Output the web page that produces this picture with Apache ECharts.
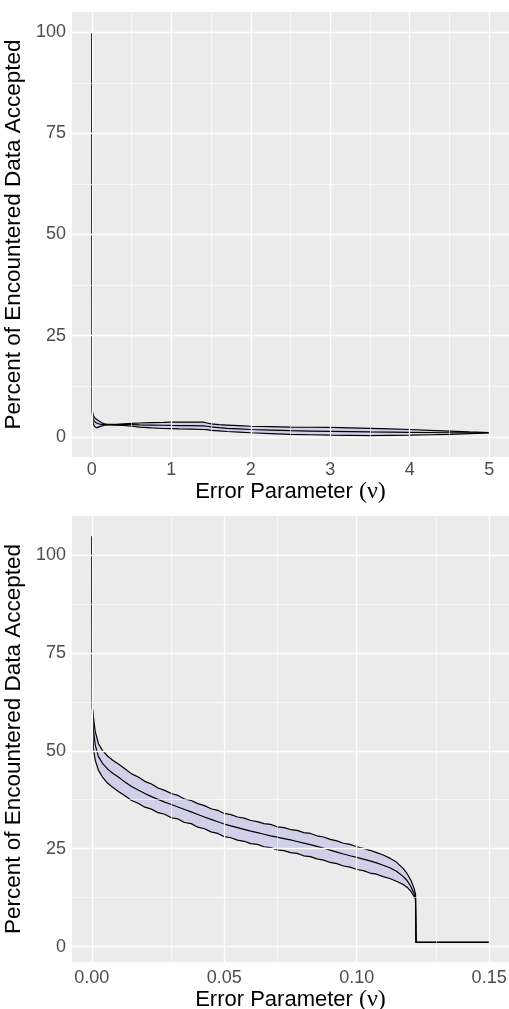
<!DOCTYPE html>
<html>
<head>
<meta charset="utf-8">
<script src="https://cdn.jsdelivr.net/npm/echarts@6/dist/echarts.min.js"></script>
<style>html,body{margin:0;padding:0;background:#fff}#c{width:509px;height:1009px}</style>
</head>
<body>
<div id="c"></div>
<script>
// ---------- data: top panel ----------
const topX = [0, 0.005, 0.01, 0.02, 0.03, 0.045, 0.06, 0.08, 0.1, 0.13, 0.16, 0.2, 0.25, 0.3, 0.4, 0.5, 0.6, 0.75, 0.9, 1.0, 1.1, 1.25, 1.4, 1.45, 1.5, 1.6, 1.7, 1.85, 2.0, 2.25, 2.5, 2.75, 3.0, 3.25, 3.5, 3.75, 4.0, 4.25, 4.5, 4.75, 5.0];
const topUpper = [100, 7.0, 6.0, 5.2, 4.8, 4.5, 4.3, 4.0, 3.7, 3.4, 3.2, 3.1, 3.05, 3.1, 3.2, 3.3, 3.4, 3.5, 3.55, 3.6, 3.6, 3.6, 3.6, 3.4, 3.2, 3.0, 2.9, 2.75, 2.6, 2.5, 2.4, 2.35, 2.3, 2.2, 2.1, 1.95, 1.8, 1.6, 1.4, 1.2, 1.05];
const topMid = [100, 6.5, 5.2, 4.3, 3.8, 3.5, 3.4, 3.2, 3.1, 3.05, 3.0, 3.0, 3.0, 3.0, 3.0, 3.0, 2.95, 2.9, 2.85, 2.8, 2.78, 2.75, 2.7, 2.6, 2.45, 2.25, 2.1, 1.95, 1.8, 1.65, 1.5, 1.42, 1.35, 1.28, 1.2, 1.15, 1.1, 1.05, 1.0, 1.0, 1.0];
const topLower = [100, 6.0, 4.4, 3.2, 2.6, 2.3, 2.2, 2.3, 2.5, 2.7, 2.85, 2.95, 2.95, 2.9, 2.8, 2.6, 2.4, 2.2, 2.05, 2.0, 1.95, 1.9, 1.8, 1.75, 1.6, 1.45, 1.3, 1.15, 1.0, 0.8, 0.6, 0.5, 0.4, 0.35, 0.3, 0.35, 0.4, 0.5, 0.6, 0.8, 0.95];
const topXTicks = [0, 1, 2, 3, 4, 5];
const topXMinor = [0.5, 1.5, 2.5, 3.5, 4.5];
const topYTicks = [0, 25, 50, 75, 100];
const topYMinor = [12.5, 37.5, 62.5, 87.5];

// ---------- data: bottom panel ----------
const botX = [0, 0.0002, 0.0006, 0.00125, 0.0025, 0.004, 0.006, 0.008, 0.01, 0.0125, 0.015, 0.0175, 0.02, 0.0225, 0.025, 0.0275, 0.03, 0.0325, 0.035, 0.0375, 0.04, 0.0425, 0.045, 0.0475, 0.05, 0.0525, 0.055, 0.0575, 0.06, 0.0625, 0.065, 0.0675, 0.07, 0.0725, 0.075, 0.0775, 0.08, 0.0825, 0.085, 0.0875, 0.09, 0.0925, 0.095, 0.0975, 0.1, 0.1025, 0.105, 0.1075, 0.11, 0.1125, 0.115, 0.1175, 0.119, 0.1205, 0.1215, 0.1222, 0.1224, 0.15];
const botUpper = [104.7, 61, 58.5, 55.0, 51.8, 50.1, 48.6, 47.5,
  46.6, 45.4, 44.1, 43.3, 42.2, 41.5, 40.5, 39.9, 39.1, 38.6, 37.7, 37.3, 36.5, 36.0, 35.2, 34.8, 34.0, 33.7, 33.1, 32.8, 32.2, 31.9, 31.4, 31.2, 30.6, 30.4, 29.9, 29.7, 29.1, 28.9, 28.3, 28.0, 27.4, 27.0, 26.4, 26.1, 25.5, 25.1, 24.6, 24.0, 23.4, 22.6, 21.6,
  20.0, 18.7, 16.9, 15.2, 13.5, 1.1, 1.1];
const botMid = [104.7, 61, 55.5, 51.5, 48.5, 46.8, 45.3, 44.2,
  43.3, 42.0, 40.9, 40.0, 39.1, 38.3, 37.6, 36.9, 36.3, 35.65, 35.0, 34.4, 33.75, 33.1, 32.5, 31.9, 31.3, 30.85, 30.4, 29.95, 29.5, 29.1, 28.7, 28.3, 27.95, 27.6, 27.25, 26.85, 26.45, 26.05, 25.6, 25.15, 24.65, 24.15, 23.65, 23.2, 22.8, 22.35, 21.9, 21.4, 20.8, 20.15, 19.25,
  17.95, 16.9, 15.3, 13.8, 12.5, 1.1, 1.1];
const botLower = [104.7, 61, 50.5, 47.6, 45.0, 43.3, 41.7, 40.6,
  39.6, 38.5, 37.3, 36.6, 35.6, 35.1, 34.2, 33.8, 32.9, 32.6, 31.7, 31.4, 30.5, 30.1, 29.3, 28.9, 28.1, 27.8, 27.2, 26.9, 26.3, 26.1, 25.5, 25.3, 24.7, 24.5, 24.0, 23.8, 23.2, 23.0, 22.4, 22.1, 21.5, 21.2, 20.6, 20.3, 19.7, 19.4, 18.8, 18.5, 17.9, 17.4, 16.7,
  15.9, 15.2, 14.1, 13.0, 12.1, 1.1, 1.1];
const botXTicks = [0, 0.05, 0.10, 0.15];
const botXMinor = [0.025, 0.075, 0.125];
const botYTicks = [0, 25, 50, 75, 100];
const botYMinor = [12.5, 37.5, 62.5, 87.5];

const xTitle = 'Error Parameter {g|(ν)}';
const yTitle = 'Percent of Encountered Data Accepted';

// ---------- styles ----------
const FONT = "'Liberation Sans', Arial, Helvetica, sans-serif";
const PANEL = '#EBEBEB';
const RIBBON = '#D2CFE8';

function zip(xs, ys) { return xs.map((x, i) => [x, ys[i]]); }

function gridLines(idx, xMaj, xMin, yMaj, yMin) {
  const d = [];
  xMin.forEach(v => d.push({ xAxis: v, lineStyle: { width: 0.6 } }));
  yMin.forEach(v => d.push({ yAxis: v, lineStyle: { width: 0.6 } }));
  xMaj.forEach(v => d.push({ xAxis: v, lineStyle: { width: 1.3 } }));
  yMaj.forEach(v => d.push({ yAxis: v, lineStyle: { width: 1.3 } }));
  return {
    type: 'line', xAxisIndex: idx, yAxisIndex: idx, z: 1,
    data: [[xMaj[0], yMaj[0]]], showSymbol: false, symbol: 'none',
    lineStyle: { width: 0, opacity: 0 }, silent: true,
    markLine: {
      silent: true, symbol: ['none', 'none'], label: { show: false },
      lineStyle: { color: '#FFFFFF', type: 'solid', opacity: 1 },
      emphasis: { disabled: true },
      data: d
    }
  };
}

function ribbon(idx, xs, lo, hi) {
  return {
    type: 'custom', xAxisIndex: idx, yAxisIndex: idx, z: 2, silent: true,
    data: [[0]],
    renderItem: function (params, api) {
      const pts = [];
      for (let i = 0; i < xs.length; i++) pts.push(api.coord([xs[i], hi[i]]));
      for (let i = xs.length - 1; i >= 0; i--) pts.push(api.coord([xs[i], lo[i]]));
      return { type: 'polygon', shape: { points: pts }, style: { fill: RIBBON, stroke: 'none' } };
    }
  };
}

function line(idx, xs, ys) {
  return {
    type: 'line', xAxisIndex: idx, yAxisIndex: idx, z: 3, silent: true,
    data: zip(xs, ys), showSymbol: false, symbol: 'none',
    lineStyle: { color: '#000000', width: 1.2 }
  };
}

function xAxis(idx, min, max, ticks, fmt, margin, gap) {
  return {
    type: 'value', gridIndex: idx, min: min, max: max,
    axisLine: { show: false },
    axisTick: { show: true, length: 4, lineStyle: { color: '#333333', width: 1 }, customValues: ticks },
    axisLabel: { show: true, customValues: ticks, formatter: fmt, color: '#4D4D4D', fontSize: 18, fontFamily: FONT, margin: margin },
    splitLine: { show: false }, minorSplitLine: { show: false },
    name: xTitle, nameLocation: 'middle', nameGap: gap,
    nameTextStyle: { color: '#000000', fontSize: 22, fontFamily: FONT,
      rich: { g: { fontFamily: "'Liberation Serif', 'DejaVu Serif', serif", fontSize: 24, color: '#000000' } } }
  };
}

function yAxis(idx, min, max, ticks) {
  return {
    type: 'value', gridIndex: idx, min: min, max: max,
    axisLine: { show: false },
    axisTick: { show: true, length: 4, lineStyle: { color: '#333333', width: 1 }, customValues: ticks },
    axisLabel: { show: true, customValues: ticks, formatter: v => String(v), color: '#4D4D4D', fontSize: 18, fontFamily: FONT, margin: 6 },
    splitLine: { show: false }, minorSplitLine: { show: false },
    name: yTitle, nameLocation: 'middle', nameGap: 34, nameRotate: 90,
    nameTextStyle: { color: '#000000', fontSize: 22.5, fontFamily: FONT }
  };
}

const chart = echarts.init(document.getElementById('c'), null, { renderer: 'canvas' });
chart.setOption({
  animation: false,
  backgroundColor: '#FFFFFF',
  grid: [
    { left: 72, top: 12, width: 437, height: 445, show: true, backgroundColor: PANEL, borderWidth: 0, containLabel: false, outerBoundsMode: 'none' },
    { left: 72, top: 516, width: 437, height: 446, show: true, backgroundColor: PANEL, borderWidth: 0, containLabel: false, outerBoundsMode: 'none' }
  ],
  xAxis: [
    xAxis(0, -0.25, 5.25, topXTicks, v => String(v), 4, 22),
    xAxis(1, -0.0075, 0.1575, botXTicks, v => v.toFixed(2), 7, 25)
  ],
  yAxis: [
    yAxis(0, -5, 105, topYTicks),
    yAxis(1, -3.9, 109.9, botYTicks)
  ],
  series: [
    gridLines(0, topXTicks, topXMinor, topYTicks, topYMinor),
    gridLines(1, botXTicks, botXMinor, botYTicks, botYMinor),
    ribbon(0, topX, topLower, topUpper),
    ribbon(1, botX, botLower, botUpper),
    line(0, topX, topUpper), line(0, topX, topMid), line(0, topX, topLower),
    line(1, botX, botUpper), line(1, botX, botMid), line(1, botX, botLower)
  ]
});
</script>
</body>
</html>
